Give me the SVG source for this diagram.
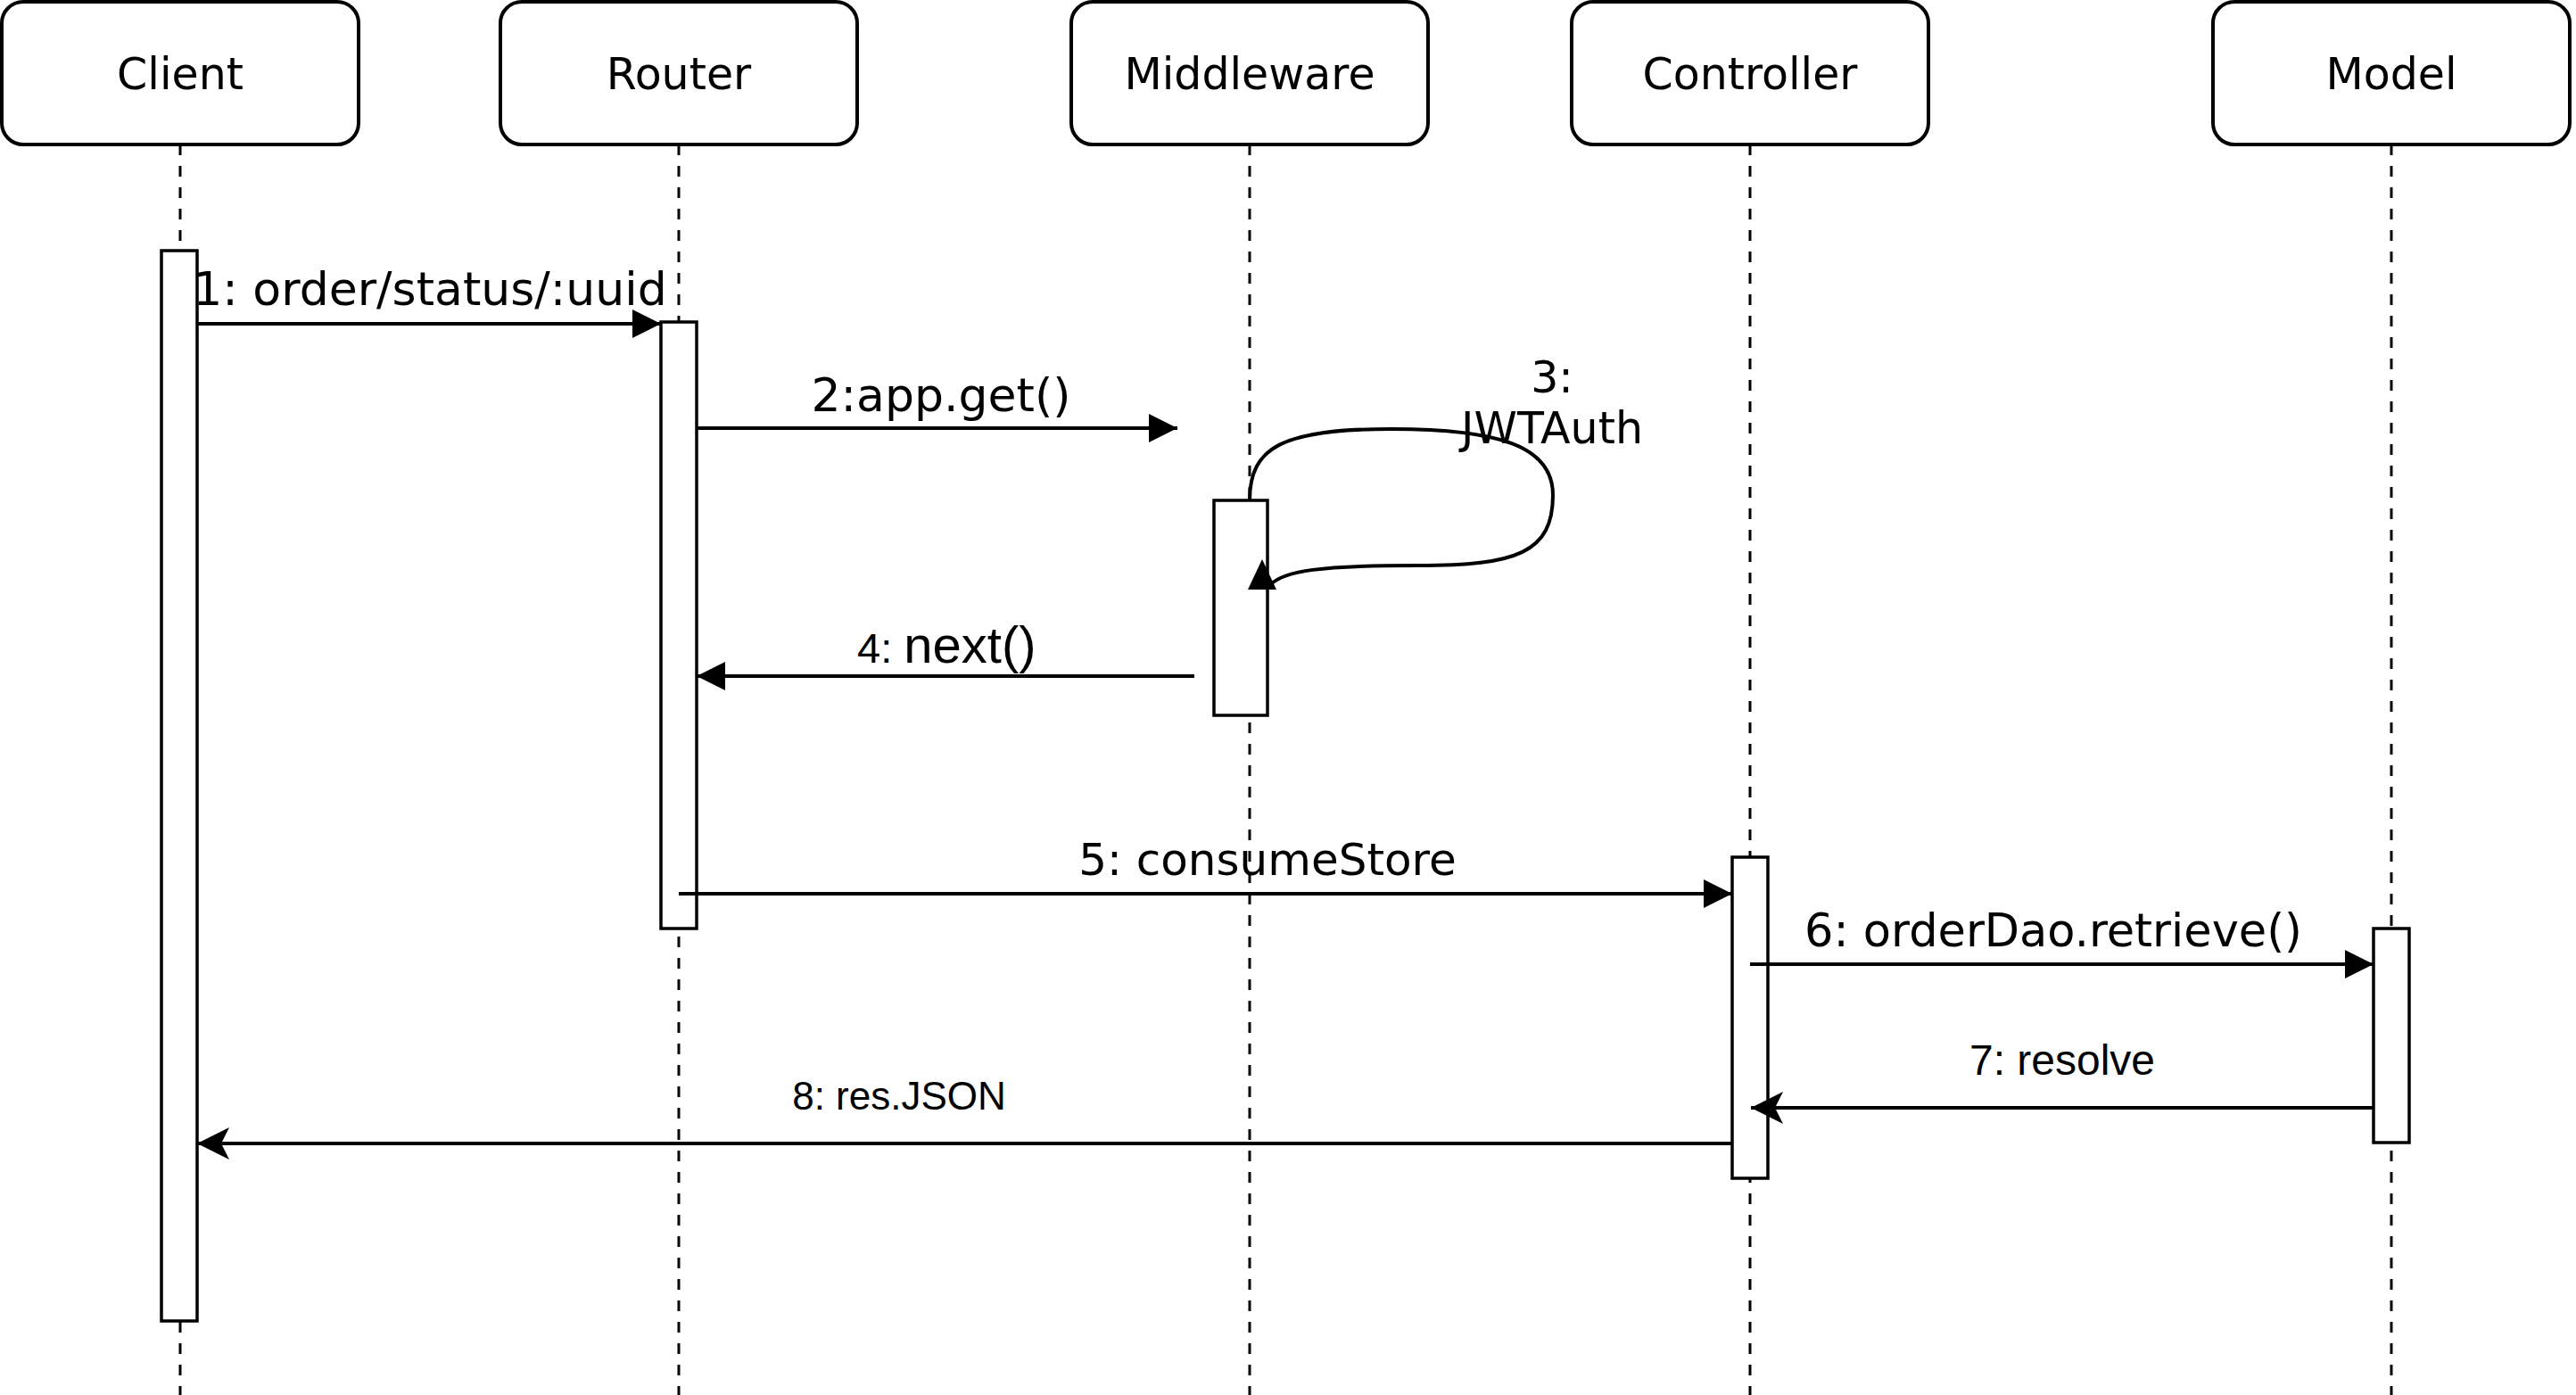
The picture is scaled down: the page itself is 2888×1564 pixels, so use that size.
<svg xmlns="http://www.w3.org/2000/svg" width="2888" height="1564" viewBox="0 0 2888 1564">
<defs>
<style>
.head{fill:#fff;stroke:#000;stroke-width:4}
.life{fill:none;stroke:#000;stroke-width:3;stroke-dasharray:12 12}
.act{fill:#fff;stroke:#000;stroke-width:3.5}
.msg{fill:none;stroke:#000;stroke-width:4}
.dv{font-family:"DejaVu Sans",sans-serif;fill:#000}
.ar{font-family:"Liberation Sans",Arial,sans-serif;fill:#000}
</style>
<marker id="block" viewBox="-32 -16 32 32" refX="0" refY="0" markerWidth="32" markerHeight="32" markerUnits="userSpaceOnUse" orient="auto"><path d="M0 0 L-32 -16 L-32 16 Z" fill="#000"/></marker>
<marker id="classic" viewBox="-36 -18 36 36" refX="0" refY="0" markerWidth="36" markerHeight="36" markerUnits="userSpaceOnUse" orient="auto"><path d="M0 0 L-36 -18 L-27 0 L-36 18 Z" fill="#000"/></marker>
</defs>
<rect width="2888" height="1564" fill="#fff"/>
<g id="lifelines">
<line class="life" x1="202" y1="162" x2="202" y2="1564"/>
<line class="life" x1="761" y1="162" x2="761" y2="1564"/>
<line class="life" x1="1401" y1="162" x2="1401" y2="1564"/>
<line class="life" x1="1962" y1="162" x2="1962" y2="1564"/>
<line class="life" x1="2681" y1="162" x2="2681" y2="1564"/>
</g>
<g id="client">
<rect class="head" x="2" y="2" width="400" height="160" rx="24"/>
<text class="dv" x="202" y="100" font-size="49" text-anchor="middle">Client</text>
<rect class="act" x="181" y="281" width="40" height="1200"/>
</g>
<g id="router">
<rect class="head" x="561" y="2" width="400" height="160" rx="24"/>
<text class="dv" x="761" y="100" font-size="49" text-anchor="middle">Router</text>
<rect class="act" x="741" y="361" width="40" height="680"/>
</g>
<g id="middleware">
<rect class="head" x="1201" y="2" width="400" height="160" rx="24"/>
<text class="dv" x="1401" y="100" font-size="49" text-anchor="middle">Middleware</text>
<rect class="act" x="1361" y="561" width="60" height="241"/>
</g>
<g id="controller">
<rect class="head" x="1762" y="2" width="400" height="160" rx="24"/>
<text class="dv" x="1962" y="100" font-size="49" text-anchor="middle">Controller</text>
<rect class="act" x="1942" y="961" width="40" height="360"/>
</g>
<g id="model">
<rect class="head" x="2481" y="2" width="400" height="160" rx="24"/>
<text class="dv" x="2681" y="100" font-size="49" text-anchor="middle">Model</text>
<rect class="act" x="2661" y="1041" width="40" height="240"/>
</g>
<g id="connectors">
<line class="msg" x1="221" y1="363" x2="741" y2="363" marker-end="url(#block)"/>
<text class="dv" x="482" y="342" font-size="52" text-anchor="middle">1: order/status/:uuid</text>
<line class="msg" x1="781" y1="480" x2="1320" y2="480" marker-end="url(#block)"/>
<text class="dv" x="1055" y="461" font-size="52" text-anchor="middle">2:app.get()</text>
<path class="msg" d="M1401 561 C1401 500 1440 481 1560 481 C1680 481 1741 500 1741 555 C1741 620 1700 634 1590 634 C1480 634 1440 640 1425 655"/>
<path d="M1415 627 L1399 661 L1431 661 Z" fill="#000"/>
<text class="dv" x="1740" y="440" font-size="49" text-anchor="middle">3:</text>
<text class="dv" x="1740" y="497" font-size="49" text-anchor="middle">JWTAuth</text>
<line class="msg" x1="1339" y1="758" x2="781" y2="758" marker-end="url(#block)"/>
<text class="ar" x="961" y="743"><tspan font-size="47">4: </tspan><tspan font-size="58">next()</tspan></text>
<line class="msg" x1="761" y1="1002" x2="1942" y2="1002" marker-end="url(#block)"/>
<text class="dv" x="1421" y="981" font-size="50" text-anchor="middle">5: consumeStore</text>
<line class="msg" x1="1962" y1="1081" x2="2661" y2="1081" marker-end="url(#block)"/>
<text class="dv" x="2302" y="1061" font-size="51" text-anchor="middle">6: orderDao.retrieve()</text>
<line class="msg" x1="2661" y1="1242" x2="1963" y2="1242" marker-end="url(#classic)"/>
<text class="ar" x="2312" y="1205" font-size="48" text-anchor="middle">7: resolve</text>
<line class="msg" x1="1942" y1="1282" x2="221" y2="1282" marker-end="url(#classic)"/>
<text class="ar" x="1008" y="1244" font-size="44" text-anchor="middle">8: res.JSON</text>
</g>
</svg>
